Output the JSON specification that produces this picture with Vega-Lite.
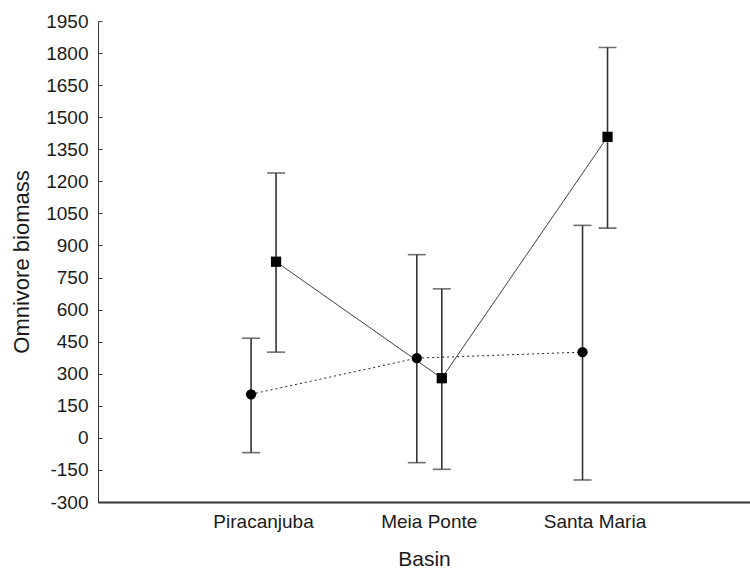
{
  "$schema": "https://vega.github.io/schema/vega-lite/v6.json",
  "width": 652,
  "height": 481,
  "autosize": "none",
  "padding": {"left": 98, "top": 21, "right": 0, "bottom": 69},
  "background": "white",
  "config": {"view": {"stroke": null}, "font": "Liberation Sans", "axis": {"labelOverlap": false}},
  "data": {"values": [
    {"basin": "Piracanjuba", "group": "Series 1", "mean": 204, "lower": -69, "upper": 466},
    {"basin": "Meia Ponte", "group": "Series 1", "mean": 373, "lower": -116, "upper": 857},
    {"basin": "Santa Maria", "group": "Series 1", "mean": 401, "lower": -197, "upper": 994},
    {"basin": "Piracanjuba", "group": "Series 2", "mean": 824, "lower": 401, "upper": 1239},
    {"basin": "Meia Ponte", "group": "Series 2", "mean": 279, "lower": -147, "upper": 697},
    {"basin": "Santa Maria", "group": "Series 2", "mean": 1408, "lower": 981, "upper": 1826}
  ]},
  "encoding": {
    "x": {
      "field": "basin",
      "type": "nominal",
      "sort": ["Piracanjuba", "Meia Ponte", "Santa Maria"],
      "scale": {"type": "band", "paddingInner": 0, "paddingOuter": 0.467, "align": 0.534},
      "axis": {
        "title": "Basin",
        "labelAngle": 0,
        "ticks": false,
        "domainColor": "#333333",
        "domainWidth": 2,
        "labelFontSize": 19,
        "labelColor": "#1a1a1a",
        "labelPadding": 10,
        "titleFontSize": 21,
        "titleFontWeight": "normal",
        "titleColor": "#1a1a1a",
        "titlePadding": 17
      }
    },
    "xOffset": {
      "field": "group",
      "type": "nominal",
      "scale": {"range": [57.9, 107.9], "paddingInner": 0, "paddingOuter": 0}
    }
  },
  "layer": [
    {
      "mark": {"type": "rule", "color": "#333333", "strokeWidth": 1.6},
      "encoding": {
        "y": {
          "field": "lower",
          "type": "quantitative",
          "scale": {"domain": [-300, 1950], "nice": false, "zero": false},
          "axis": {
            "title": "Omnivore biomass",
            "values": [-300, -150, 0, 150, 300, 450, 600, 750, 900, 1050, 1200, 1350, 1500, 1650, 1800, 1950],
            "tickCount": 16,
            "labelExpr": "'' + datum.value",
            "labelOverlap": false,
            "grid": false,
            "tickSize": -4,
            "tickColor": "#333333",
            "domainColor": "#333333",
            "labelFontSize": 19,
            "labelColor": "#1a1a1a",
            "labelPadding": 14,
            "titleFontSize": 22,
            "titleFontWeight": "normal",
            "titleColor": "#1a1a1a",
            "titlePadding": 12
          }
        },
        "y2": {"field": "upper"}
      }
    },
    {
      "mark": {"type": "tick", "color": "#333333", "size": 18, "thickness": 1.6},
      "encoding": {"y": {"field": "upper", "type": "quantitative"}}
    },
    {
      "mark": {"type": "tick", "color": "#333333", "size": 18, "thickness": 1.6},
      "encoding": {"y": {"field": "lower", "type": "quantitative"}}
    },
    {
      "mark": {"type": "line", "color": "#222222", "strokeWidth": 1},
      "encoding": {
        "y": {"field": "mean", "type": "quantitative"},
        "strokeDash": {
          "field": "group",
          "type": "nominal",
          "scale": {"domain": ["Series 1", "Series 2"], "range": [[2, 3], [1, 0]]},
          "legend": null
        }
      }
    },
    {
      "mark": {"type": "point", "filled": true, "color": "black", "opacity": 1, "size": 105},
      "encoding": {
        "y": {"field": "mean", "type": "quantitative"},
        "shape": {
          "field": "group",
          "type": "nominal",
          "scale": {"domain": ["Series 1", "Series 2"], "range": ["circle", "square"]},
          "legend": null
        }
      }
    }
  ]
}
